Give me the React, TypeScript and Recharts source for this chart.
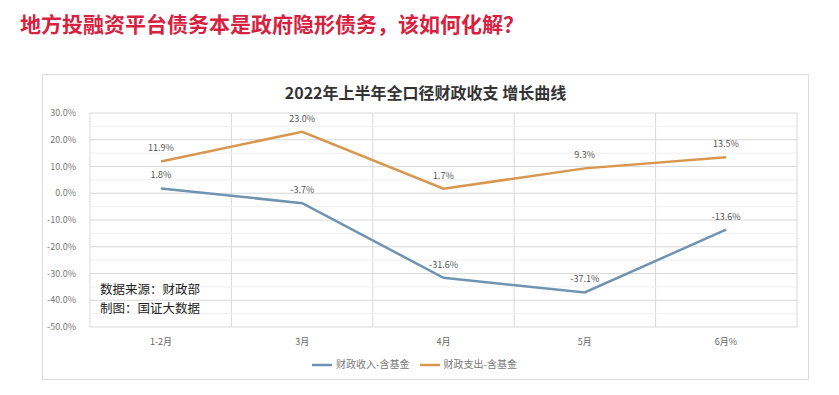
import { LineChart, Line, XAxis, YAxis, CartesianGrid, Legend, LabelList, ReferenceLine } from 'recharts';

const months = ['1-2月', '3月', '4月', '5月', '6月%'];
const revenue = [1.8, -3.7, -31.6, -37.1, -13.6];
const spending = [11.9, 23.0, 1.7, 9.3, 13.5];
const yTicks = [30, 20, 10, 0, -10, -20, -30, -40, -50];
const minorTicks = [25, 15, 5, -5, -15, -25, -35, -45];

const data = months.map((m, i) => ({ month: m, revenue: revenue[i], spending: spending[i] }));

const FONT = '"Noto Sans CJK SC", "Noto Sans", sans-serif';
const pct = (v: number) => `${v.toFixed(1)}%`;

export default function App() {
  return (
    <div style={{ position: 'absolute', left: 0, top: 0, width: 839, height: 395, background: '#fff', fontFamily: FONT }}>
      <div style={{ position: 'absolute', left: 20, top: 8, fontSize: 21, fontWeight: 700, color: '#d6223f', whiteSpace: 'nowrap' }}>
        地方投融资平台债务本是政府隐形债务，该如何化解？
      </div>
      <div style={{ position: 'absolute', left: 42, top: 74, width: 767, height: 306, border: '1px solid #dcdcdc', boxSizing: 'border-box' }} />
      <div style={{ position: 'absolute', left: 42, top: 80, width: 767, textAlign: 'center', fontSize: 16, fontWeight: 700, color: '#333' }}>
        2022年上半年全口径财政收支 增长曲线
      </div>
      <div style={{ position: 'absolute', left: 42, top: 74 }}>
        <LineChart width={767} height={306} data={data} margin={{ top: 39, right: 12, left: 0, bottom: 0 }}>
          <CartesianGrid
            stroke="#d9d9d9"
            verticalCoordinatesGenerator={({ offset }: any) =>
              [0, 1, 2, 3, 4, 5].map((k) => offset.left + (offset.width * k) / 5)
            }
          />
          {minorTicks.map((t) => (
            <ReferenceLine key={t} y={t} stroke="#efefef" />
          ))}
          <XAxis
            dataKey="month"
            axisLine={false}
            tickLine={false}
            padding={{ left: 71, right: 71 }}
            tick={{ fontSize: 9, fill: '#666', fontFamily: FONT }}
            tickMargin={6}
            height={28}
          />
          <YAxis
            domain={[-50, 30]}
            ticks={yTicks}
            tickFormatter={pct}
            axisLine={false}
            tickLine={false}
            width={48}
            tickMargin={8}
            tick={{ fontSize: 9, fill: '#777', fontFamily: FONT }}
          />
          <Legend
            verticalAlign="bottom"
            height={25}
            iconType="plainline"
            iconSize={20}
            itemSorter="dataKey"
            wrapperStyle={{ fontSize: 10, fontFamily: FONT, color: '#777' }}
            formatter={(v: string) => <span style={{ color: '#777' }}>{v}</span>}
          />
          <Line
            dataKey="revenue"
            name="财政收入-含基金"
            stroke="#6f93b0"
            strokeWidth={2.5}
            dot={false}
            isAnimationActive={false}
          >
            <LabelList dataKey="revenue" position="top" offset={10} formatter={(v: any) => pct(Number(v))} style={{ fontSize: 9, fill: '#555', fontFamily: FONT }} />
          </Line>
          <Line
            dataKey="spending"
            name="财政支出-含基金"
            stroke="#d8964f"
            strokeWidth={2.5}
            dot={false}
            isAnimationActive={false}
          >
            <LabelList dataKey="spending" position="top" offset={10} formatter={(v: any) => pct(Number(v))} style={{ fontSize: 9, fill: '#555', fontFamily: FONT }} />
          </Line>
        </LineChart>
      </div>
      <div style={{ position: 'absolute', left: 100, top: 281, fontSize: 12.5, lineHeight: '15px', color: '#222', whiteSpace: 'nowrap' }}>
        数据来源：财政部
      </div>
      <div style={{ position: 'absolute', left: 100, top: 300, fontSize: 12.5, lineHeight: '15px', color: '#222', whiteSpace: 'nowrap' }}>
        制图：国证大数据
      </div>
    </div>
  );
}
